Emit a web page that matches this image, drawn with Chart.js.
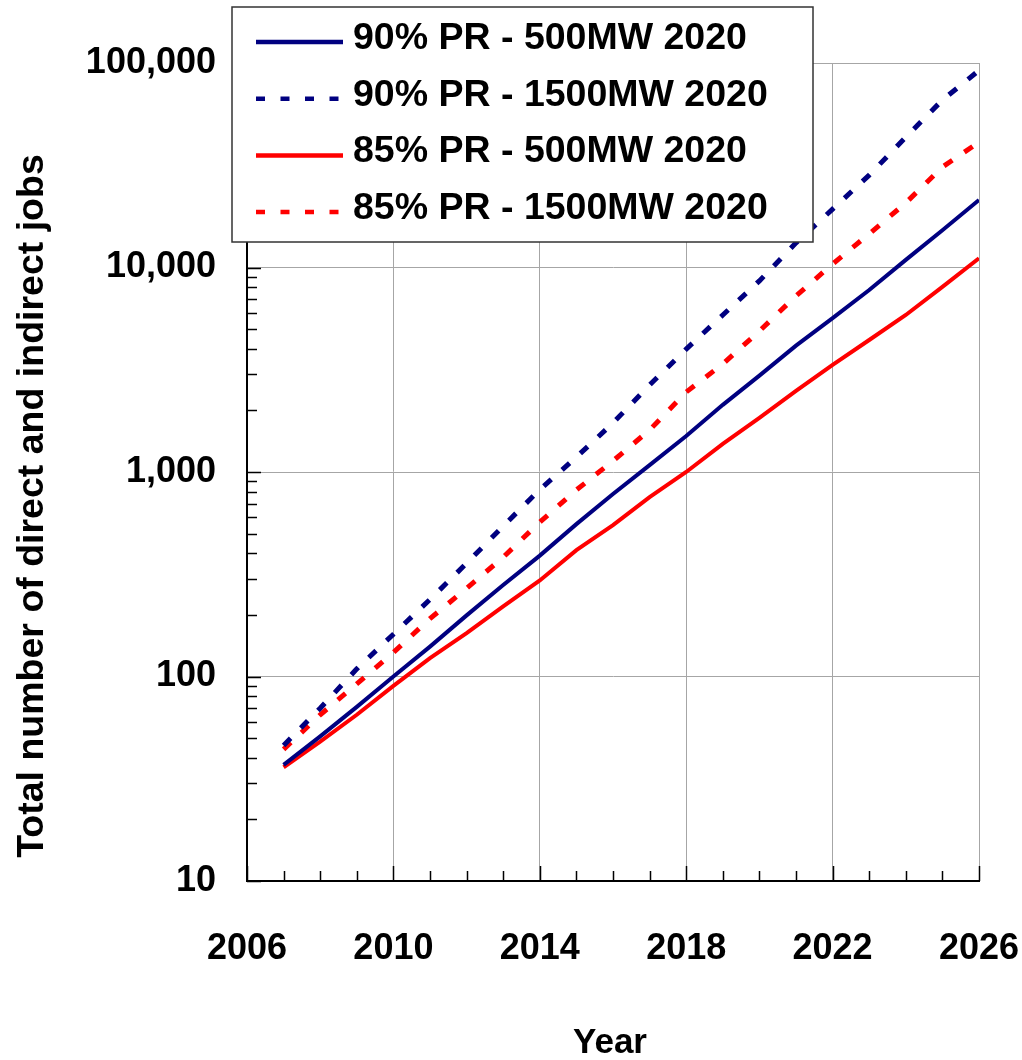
<!DOCTYPE html>
<html>
<head>
<meta charset="utf-8">
<script src="https://cdn.jsdelivr.net/npm/chart.js@4/dist/chart.umd.min.js"></script>
<style>
  html, body { margin: 0; padding: 0; background: #fff; }
  #wrap { width: 1022px; height: 1060px; }
</style>
</head>
<body>
<div id="wrap"><canvas id="c" width="1022" height="1060"></canvas></div>
<script>
// Years of the projection
const years = [2007, 2008, 2009, 2010, 2011, 2012, 2013, 2014, 2015, 2016,
               2017, 2018, 2019, 2020, 2021, 2022, 2023, 2024, 2025, 2026];

// Total direct + indirect jobs per scenario
const pr90_500  = [37, 51, 71, 100, 140, 199, 280, 390, 556, 780,
                   1080, 1500, 2130, 2960, 4150, 5660, 7760, 10900, 15200, 21400];
const pr90_1500 = [46, 70, 109, 161, 238, 358, 544, 820, 1183, 1737,
                   2663, 3990, 5860, 8600, 13200, 19300, 28300, 43400, 65900, 92000];
const pr85_500  = [36, 48, 65, 90, 123, 163, 220, 295, 415, 550,
                   753, 1000, 1372, 1840, 2490, 3340, 4420, 5860, 8040, 11100];
const pr85_1500 = [44, 65, 92, 131, 192, 270, 383, 569, 817, 1133,
                   1604, 2460, 3375, 4890, 7260, 10400, 14600, 20700, 31000, 41000];

const seriesLabels = ['90% PR - 500MW 2020', '90% PR - 1500MW 2020',
                      '85% PR - 500MW 2020', '85% PR - 1500MW 2020'];

// Axis tick labels
const xTickValues = [2006, 2010, 2014, 2018, 2022, 2026];
const yTickValues = [10, 100, 1000, 10000, 100000];

const xTitle = 'Year';
const yTitle = 'Total number of direct and indirect jobs';

const FONT = "'Liberation Sans', Arial, Helvetica, sans-serif";
const NAVY = '#000080';
const RED = '#ff0000';
const PLOT_DASH = [10, 14.5];
const KEY_DASH = [9, 15.5];

const points = vals => years.map((yr, i) => ({ x: yr, y: vals[i] }));

function lineSet(label, vals, color, dashed) {
  return {
    label,
    data: points(vals),
    borderColor: color,
    backgroundColor: color,
    borderWidth: dashed ? 5 : 4,
    borderDash: dashed ? PLOT_DASH : [],
    dashed,
    pointRadius: 0,
    tension: 0,
    fill: false
  };
}

// Short inward tick marks on both axes (years along x, 1-9 per decade along y)
const innerTicks = {
  id: 'innerTicks',
  afterDatasetsDraw(chart) {
    const { ctx, chartArea: a, scales: { x, y } } = chart;
    ctx.save();
    ctx.strokeStyle = '#000';
    ctx.lineWidth = 1.5;
    ctx.beginPath();
    for (let d = 1; d <= 5; d++) {
      for (let m = 1; m <= 9; m++) {
        const v = m * Math.pow(10, d);
        if (v > y.max) break;
        const py = Math.round(y.getPixelForValue(v)) + 0.5;
        const len = m === 1 ? 14 : 10;
        ctx.moveTo(a.left, py);
        ctx.lineTo(a.left + len, py);
      }
    }
    for (let yr = x.min; yr <= x.max; yr++) {
      const px = Math.round(x.getPixelForValue(yr)) + 0.5;
      const len = (yr - x.min) % 4 === 0 ? 15 : 10;
      ctx.moveTo(px, a.bottom);
      ctx.lineTo(px, a.bottom - len);
    }
    ctx.stroke();
    ctx.restore();
  }
};

// Axis titles
const axisTitles = {
  id: 'axisTitles',
  afterDraw(chart) {
    const { ctx } = chart;
    ctx.save();
    ctx.fillStyle = '#000';
    ctx.font = `bold 35px ${FONT}`;
    ctx.textAlign = 'center';
    ctx.textBaseline = 'alphabetic';
    ctx.fillText(xTitle, 610, 1053);
    ctx.translate(43, 506);
    ctx.rotate(-Math.PI / 2);
    ctx.font = `bold 37.5px ${FONT}`;
    ctx.fillText(yTitle, 0, 0);
    ctx.restore();
  }
};

// Boxed legend in the upper left of the plot
const boxLegend = {
  id: 'boxLegend',
  afterDraw(chart) {
    const { ctx } = chart;
    const box = { x: 232, y: 7, w: 581, h: 235 };
    ctx.save();
    ctx.fillStyle = '#fff';
    ctx.fillRect(box.x, box.y, box.w, box.h);
    ctx.strokeStyle = '#333';
    ctx.lineWidth = 1.5;
    ctx.strokeRect(box.x, box.y, box.w, box.h);
    ctx.font = `bold 37.5px ${FONT}`;
    ctx.textAlign = 'left';
    ctx.textBaseline = 'alphabetic';
    chart.data.datasets.forEach((ds, i) => {
      const ly = 42 + i * 56.7;
      ctx.beginPath();
      ctx.strokeStyle = ds.borderColor;
      ctx.lineWidth = 4.5;
      ctx.setLineDash(ds.dashed ? KEY_DASH : []);
      ctx.moveTo(256, ly);
      ctx.lineTo(343, ly);
      ctx.stroke();
      ctx.setLineDash([]);
      ctx.fillStyle = '#000';
      ctx.fillText(ds.label, 353, ly + 7);
    });
    ctx.restore();
  }
};

new Chart(document.getElementById('c'), {
  type: 'line',
  data: {
    datasets: [
      lineSet(seriesLabels[0], pr90_500, NAVY, false),
      lineSet(seriesLabels[1], pr90_1500, NAVY, true),
      lineSet(seriesLabels[2], pr85_500, RED, false),
      lineSet(seriesLabels[3], pr85_1500, RED, true)
    ]
  },
  options: {
    responsive: false,
    animation: false,
    devicePixelRatio: 1,
    layout: { padding: { top: 63, right: 43, left: 0, bottom: 0 } },
    plugins: { legend: { display: false }, tooltip: { enabled: false } },
    scales: {
      x: {
        type: 'linear',
        min: 2006,
        max: 2026,
        afterBuildTicks: s => { s.ticks = xTickValues.map(v => ({ value: v })); },
        afterFit: s => { s.height = 179; s.paddingLeft = 0; s.paddingRight = 0; },
        ticks: {
          callback: v => String(v),
          font: { family: FONT, size: 36, weight: 'bold' },
          color: '#000',
          padding: 46,
          maxRotation: 0,
          autoSkip: false
        },
        grid: { color: '#a6a6a6', lineWidth: 1, drawTicks: false },
        border: { color: '#000', width: 2 }
      },
      y: {
        type: 'logarithmic',
        min: 10,
        max: 100000,
        afterBuildTicks: s => { s.ticks = yTickValues.map(v => ({ value: v })); },
        afterFit: s => { s.width = 247; s.paddingTop = 0; s.paddingBottom = 0; },
        ticks: {
          callback: v => Number(v).toLocaleString('en-US'),
          font: { family: FONT, size: 36, weight: 'bold' },
          color: '#000',
          padding: 31,
          autoSkip: false
        },
        grid: { color: '#a6a6a6', lineWidth: 1, drawTicks: false },
        border: { color: '#000', width: 2 }
      }
    }
  },
  plugins: [innerTicks, axisTitles, boxLegend]
});
</script>
</body>
</html>
